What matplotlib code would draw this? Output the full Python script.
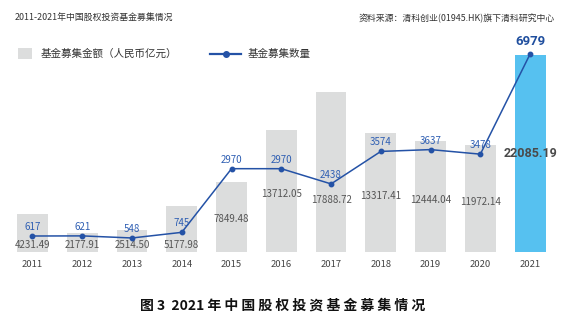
import matplotlib
matplotlib.use("Agg")
import matplotlib.pyplot as plt
from matplotlib.patches import Rectangle
from matplotlib.lines import Line2D

plt.rcParams['font.family'] = ['Noto Sans CJK SC', 'DejaVu Sans']
NARROW = ['Roboto', 'DejaVu Sans']

years = ['2011', '2012', '2013', '2014', '2015', '2016', '2017', '2018', '2019', '2020', '2021']
amounts = [4231.49, 2177.91, 2514.50, 5177.98, 7849.48, 13712.05, 17888.72, 13317.41, 12444.04, 11972.14, 22085.19]
counts = [617, 621, 548, 745, 2970, 2970, 2438, 3574, 3637, 3478, 6979]

W, H = 565, 324
fig = plt.figure(figsize=(W / 100, H / 100), dpi=100)
ax = fig.add_axes([7.6 / W, 72 / H, 547.4 / W, 212 / H])
x = list(range(len(years)))
colors = ['#dcdddd'] * (len(years) - 1) + ['#56c1f0']
ax.bar(x, amounts, width=0.62, color=colors, zorder=1)
ax.set_xlim(-0.5, len(years) - 0.5)
ax.set_ylim(0, 23744)
ax.set_xticks(x)
ax.set_xticklabels(years, fontsize=6.8, color='#444444')
ax.tick_params(axis='x', length=0, pad=6)
ax.set_yticks([])
for s in ax.spines.values():
    s.set_visible(False)

ax2 = ax.twinx()
ax2.set_ylim(58, 7468)
ax2.plot(x, counts, color='#2452a6', lw=1.1, marker='o', ms=3.2, zorder=3)
ax2.set_yticks([])
for s in ax2.spines.values():
    s.set_visible(False)

# bar value labels (kept below the line point when they would collide)
px_per_amt = 212 / 23744
px_per_cnt = 212 / (7468 - 58)
for i, v in enumerate(amounts):
    last = i == len(amounts) - 1
    if v < 7000:
        ypx = 7
    else:
        ypx = v * (0.5 if last else 0.47) * px_per_amt
        pt_px = (counts[i] - 58) * px_per_cnt
        if not last and ypx > pt_px - 16:
            ypx = pt_px - 16
    yy = ypx / px_per_amt
    if last:
        ax.text(i, yy, f'{v:.2f}', ha='center', va='center', fontsize=9,
                fontweight='bold', color='#4a4a4a', family=NARROW, zorder=5)
    else:
        ax.text(i, yy, f'{v:.2f}', ha='center', va='center', fontsize=7,
                color='#555555', zorder=5)

for i, c in enumerate(counts):
    last = i == len(counts) - 1
    if last:
        ax2.annotate(str(c), (i, c), xytext=(0, 12), textcoords='offset pixels',
                     ha='center', va='center', fontsize=9.5, fontweight='bold',
                     color='#1f4e9e', family=NARROW)
    else:
        ax2.annotate(str(c), (i, c), xytext=(0, 9), textcoords='offset pixels',
                     ha='center', va='center', fontsize=7, color='#2f5fb3')

# header
fig.text(15 / W, 1 - 18 / H, '2011-2021年中国股权投资基金募集情况', fontsize=6.4,
         color='#333333', ha='left', va='center')
fig.text(555 / W, 1 - 18 / H, '资料来源：清科创业(01945.HK)旗下清科研究中心', fontsize=6.4,
         color='#333333', ha='right', va='center')

# legend
fig.add_artist(Rectangle((18 / W, 1 - 59 / H), 14 / W, 11 / H, transform=fig.transFigure,
                         facecolor='#dcdddd', edgecolor='none'))
fig.text(41 / W, 1 - 53.7 / H, '基金募集金额（人民币亿元）', fontsize=7.6, color='#333333',
         ha='left', va='center')
fig.add_artist(Line2D([210 / W, 241 / W], [1 - 53.7 / H, 1 - 53.7 / H], transform=fig.transFigure,
                      color='#2452a6', lw=1.6))
fig.add_artist(Line2D([226 / W], [1 - 53.7 / H], transform=fig.transFigure, color='#2452a6',
                      marker='o', ms=4))
fig.text(248 / W, 1 - 53.7 / H, '基金募集数量', fontsize=7.6, color='#333333',
         ha='left', va='center')

# caption
fig.text(140 / W, 1 - 306 / H, '图 3  2021 年 中 国 股 权 投 资 基 金 募 集 情 况', fontsize=10,
         fontweight='bold', color='#111111', ha='left', va='center')

fig.savefig('out.png', dpi=100)
